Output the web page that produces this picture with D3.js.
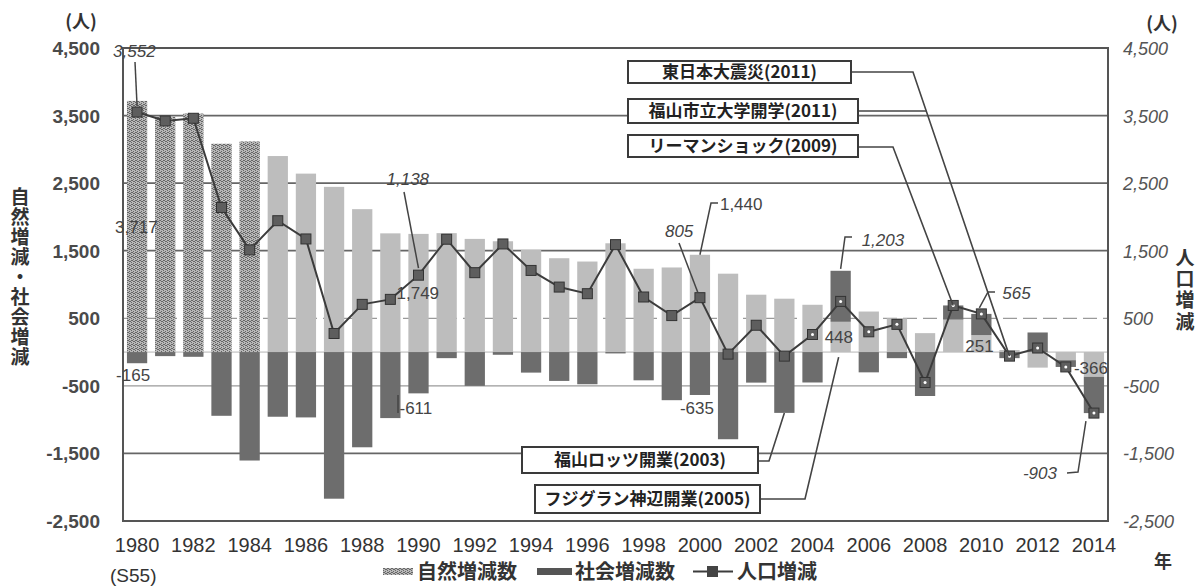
<!DOCTYPE html>
<html><head><meta charset="utf-8">
<script src="https://cdn.jsdelivr.net/npm/d3@7"></script>
<style>
body{margin:0;background:#fff}
svg{display:block}
.num{font-family:"Liberation Sans",Arial,sans-serif}
.jp{font-family:"Noto Sans CJK JP",sans-serif;font-weight:bold}
</style></head><body>
<svg id="c" width="1197" height="586"></svg>
<script>
// ---------------- data ----------------
const years = [1980,1981,1982,1983,1984,1985,1986,1987,1988,1989,1990,1991,1992,1993,1994,1995,1996,1997,1998,1999,2000,2001,2002,2003,2004,2005,2006,2007,2008,2009,2010,2011,2012,2013,2014];
// 自然増減数
const natural = [3717,3480,3530,3083,3117,2901,2641,2445,2115,1757,1749,1760,1675,1640,1512,1389,1340,1610,1233,1252,1440,1160,849,790,700,448,600,500,280,480,251,30,-230,-120,-366];
// 社会増減数
const social = [-165,-60,-70,-943,-1605,-957,-967,-2170,-1409,-977,-611,-90,-500,-40,-304,-427,-476,-20,-418,-712,-635,-1290,-452,-900,-450,755,-300,-90,-650,210,314,-90,290,-100,-537];
// 人口増減
const total = [3552,3420,3460,2140,1512,1944,1674,275,706,780,1138,1670,1175,1600,1208,962,864,1590,815,540,805,-30,397,-60,260,750,300,410,-450,690,565,-60,60,-220,-903];
const tickYears = [1980,1982,1984,1986,1988,1990,1992,1994,1996,1998,2000,2002,2004,2006,2008,2010,2012,2014];
const yTicks = [4500,3500,2500,1500,500,-500,-1500,-2500];
const seriesNames = ["自然増減数","社会増減数","人口増減"];

// value labels: year, value anchor, text, offset, italic
const valueLabels = [
  {year:1980,v:3552,text:"3,552",dx:-24,dy:-55,it:true},
  {year:1980,v:3717,text:"3,717",dx:-22,dy:132,it:false},
  {year:1980,v:-165,text:"-165",dx:-21,dy:18,it:false},
  {year:1990,v:1138,text:"1,138",dx:-32,dy:-90,it:true},
  {year:1990,v:1749,text:"1,749",dx:-22,dy:65,it:false},
  {year:1990,v:-611,text:"-611",dx:-19,dy:21,it:false},
  {year:2000,v:805,text:"805",dx:-35,dy:-61,it:true},
  {year:2000,v:1440,text:"1,440",dx:20,dy:-45,it:false},
  {year:2000,v:-635,text:"-635",dx:-20,dy:19,it:false},
  {year:2005,v:1203,text:"1,203",dx:21,dy:-25,it:true},
  {year:2005,v:448,text:"448",dx:-16,dy:21,it:false},
  {year:2010,v:565,text:"565",dx:21,dy:-15,it:true},
  {year:2010,v:251,text:"251",dx:-16,dy:17,it:false},
  {year:2014,v:-366,text:"-366",dx:-20,dy:-3,it:false},
  {year:2014,v:-903,text:"-903",dx:-71,dy:66,it:true}
];

// ---------------- layout ----------------
const svg = d3.select("#c");
const L=123, R=1108, T=48, B=521;
const x = d3.scaleBand().domain(years).range([L,R]).paddingInner(0.28).paddingOuter(0.14);
const y = d3.scaleLinear().domain([-2500,4500]).range([B,T]);
const bw = x.bandwidth();
const xc = yr => x(yr)+bw/2;

// texture for early natural bars
const defs = svg.append("defs");
const pat = defs.append("pattern").attr("id","speck").attr("width",4).attr("height",4).attr("patternUnits","userSpaceOnUse");
pat.append("rect").attr("width",4).attr("height",4).attr("fill","#b8b8b8");
[[0,0],[2,1],[1,3],[3,2],[1,1],[3,0]].forEach(p=>pat.append("rect").attr("x",p[0]).attr("y",p[1]).attr("width",1).attr("height",1).attr("fill","#666"));

// grid lines
svg.append("g").selectAll("line").data(yTicks).join("line")
  .attr("x1",L).attr("x2",R).attr("y1",d=>y(d)).attr("y2",d=>y(d))
  .attr("stroke",d=>Math.abs(d)===500?"#9a9a9a":"#666")
  .attr("stroke-width",d=>Math.abs(d)===500?1.2:1.8)
  .attr("stroke-dasharray",d=>d===500?"14,6":null);
svg.append("line").attr("x1",L).attr("x2",R).attr("y1",y(0)).attr("y2",y(0)).attr("stroke","#b5b5b5").attr("stroke-width",1);

// stacked bars
const rows = years.map((yr,i)=>({year:yr,natural:natural[i],social:social[i]}));
const stack = d3.stack().keys(["natural","social"]).offset(d3.stackOffsetDiverging)(rows);
const gBars = svg.append("g");
gBars.selectAll("g").data(stack).join("g").each(function(s){
  d3.select(this).selectAll("rect").data(s).join("rect")
    .attr("x",d=>x(d.data.year)).attr("width",bw)
    .attr("y",d=>y(Math.max(d[0],d[1]))).attr("height",d=>Math.abs(y(d[0])-y(d[1])))
    .attr("fill",d=> s.key==="natural" ? (d.data.year<=1984?"url(#speck)":"#bdbdbd") : "#6d6d6d");
});

// population line
const pts = years.map((yr,i)=>({year:yr,v:total[i]}));
svg.append("path").datum(pts)
  .attr("d",d3.line().x(d=>xc(d.year)).y(d=>y(d.v)))
  .attr("fill","none").attr("stroke","#3c3c3c").attr("stroke-width",2);
svg.append("g").selectAll("rect").data(pts).join("rect")
  .attr("x",d=>xc(d.year)-5).attr("y",d=>y(d.v)-5).attr("width",10).attr("height",10)
  .attr("fill","#5e5e5e").attr("stroke","#333").attr("stroke-width",1);
svg.append("g").selectAll("circle").data(pts.filter(d=>d.year>=2004)).join("circle")
  .attr("cx",d=>xc(d.year)).attr("cy",d=>y(d.v)).attr("r",1.5).attr("fill","#fff");

// frame
svg.append("rect").attr("x",L).attr("y",T).attr("width",R-L).attr("height",B-T)
  .attr("fill","none").attr("stroke","#555").attr("stroke-width",2);

// axes labels
svg.append("g").selectAll("text").data(yTicks).join("text").attr("class","num")
  .attr("x",100).attr("y",d=>y(d)+7).attr("text-anchor","end")
  .attr("font-size",19).attr("font-weight","bold").attr("fill","#4a4a4a")
  .text(d=>d3.format(",")(d).replace("−","-"));
svg.append("g").selectAll("text").data(yTicks).join("text").attr("class","num")
  .attr("x",1123).attr("y",d=>y(d)+7).attr("text-anchor","start")
  .attr("font-size",18).attr("font-style","italic").attr("fill","#555")
  .text(d=>d3.format(",")(d).replace("−","-"));
svg.append("g").selectAll("text").data(tickYears).join("text").attr("class","num")
  .attr("x",d=>xc(d)).attr("y",552).attr("text-anchor","middle")
  .attr("font-size",20).attr("fill","#333").text(d=>d);
svg.append("text").attr("class","num").attr("x",110).attr("y",582).attr("font-size",19).attr("fill","#333").text("(S55)");
svg.append("text").attr("class","jp").attr("x",1163).attr("y",568).attr("text-anchor","middle").attr("font-size",18).attr("fill","#333").text("年");
svg.append("text").attr("class","jp").attr("x",81).attr("y",28).attr("text-anchor","middle").attr("font-size",18).attr("fill","#333").text("(人)");
svg.append("text").attr("class","jp").attr("x",1162).attr("y",30).attr("text-anchor","middle").attr("font-size",18).attr("fill","#333").text("(人)");

// axis titles (vertical)
svg.append("text").attr("class","jp")
  .attr("x",20).attr("y",187).attr("writing-mode","vertical-rl")
  .attr("letter-spacing",1).attr("font-size",19).attr("fill","#333").text("自然増減・社会増減");
svg.append("text").attr("class","jp")
  .attr("x",1185).attr("y",248).attr("writing-mode","vertical-rl")
  .attr("letter-spacing",2.3).attr("font-size",19).attr("fill","#333").text("人口増減");

// value labels
svg.append("g").selectAll("text").data(valueLabels).join("text").attr("class","num")
  .attr("x",d=>xc(d.year)+d.dx).attr("y",d=>y(d.v)+d.dy)
  .attr("font-size",17).attr("font-style",d=>d.it?"italic":"normal").attr("fill","#444")
  .text(d=>d.text);

// value label leaders
const leaders = [
  {year:1980,v:3552,pts:[[135,62]],oy:-6},
  {year:1990,v:1138,pts:[[404,192]],oy:-7},
  {year:2000,v:805,pts:[[679,243]],oy:-5,ox:-2},
  {year:2000,v:1440,pts:[[718,203],[711,203]],oy:0},
  {year:2005,v:1203,pts:[[852,237],[845,237]],oy:-2},
  {year:2010,v:565,pts:[[995,292],[988,292]],oy:-6,ox:-2},
  {year:2014,v:-903,pts:[[1067,473],[1078,472]],oy:8,ox:-8}
];
const lineGen = d3.line();
leaders.forEach(l=>{
  const p = l.pts.concat([[xc(l.year)+(l.ox||0), y(l.v)+(l.oy||0)]]);
  svg.append("path").attr("d",lineGen(p)).attr("fill","none").attr("stroke","#444").attr("stroke-width",1.5);
});
svg.append("line").attr("x1",398).attr("x2",398).attr("y1",395).attr("y2",413).attr("stroke","#444").attr("stroke-width",1.5);

// annotation boxes
const iEast = years.indexOf(2011), iLehman = years.indexOf(2009), iLotz = years.indexOf(2003);
const eastEnd = [xc(2011), y(total[iEast])];
const eastElbow = [913,72];
const at = yy => eastElbow[0] + (yy-eastElbow[1])/(eastEnd[1]-eastElbow[1])*(eastEnd[0]-eastElbow[0]);
const notes = [
  {text:"東日本大震災(2011)", bx:628,by:61,w:223,h:22, path:[[851,72],eastElbow,eastEnd]},
  {text:"福山市立大学開学(2011)", bx:628,by:99,w:230,h:24, path:[[858,111],[at(111),111]]},
  {text:"リーマンショック(2009)", bx:628,by:135,w:230,h:22, path:[[858,147],[893,147],[xc(2009),y(total[iLehman])]]},
  {text:"福山ロッツ開業(2003)", bx:522,by:447,w:236,h:26, path:[[758,461],[769,461],[xc(2003),y(Math.min(0,natural[iLotz])+social[iLotz])]]},
  {text:"フジグラン神辺開業(2005)", bx:535,by:485,w:225,h:28, path:[[760,499],[805,499],[xc(2005)-2,y(0)+5]]}
];
notes.forEach(n=>{
  svg.append("path").attr("d",lineGen(n.path)).attr("fill","none").attr("stroke","#444").attr("stroke-width",1.6);
  svg.append("rect").attr("x",n.bx).attr("y",n.by).attr("width",n.w).attr("height",n.h)
    .attr("fill","#fff").attr("stroke","#3a3a3a").attr("stroke-width",2);
  svg.append("text").attr("class","jp").attr("x",n.bx+n.w/2).attr("y",n.by+n.h/2).attr("dy","0.36em")
    .attr("text-anchor","middle").attr("font-size",17).attr("fill","#222").text(n.text);
});

// legend
const lg = svg.append("g");
lg.append("rect").attr("x",383).attr("y",568).attr("width",30).attr("height",7).attr("fill","url(#speck)");
lg.append("text").attr("class","jp").attr("x",417).attr("y",579).attr("font-size",20).attr("fill","#333").text(seriesNames[0]);
lg.append("rect").attr("x",537).attr("y",568).attr("width",35).attr("height",7).attr("fill","#555");
lg.append("text").attr("class","jp").attr("x",575).attr("y",579).attr("font-size",20).attr("fill","#333").text(seriesNames[1]);
lg.append("line").attr("x1",693).attr("x2",733).attr("y1",571.5).attr("y2",571.5).attr("stroke","#3c3c3c").attr("stroke-width",2);
lg.append("rect").attr("x",707).attr("y",566).attr("width",11).attr("height",11).attr("fill","#444");
lg.append("text").attr("class","jp").attr("x",737).attr("y",579).attr("font-size",20).attr("fill","#333").text(seriesNames[2]);
</script>
</body></html>
